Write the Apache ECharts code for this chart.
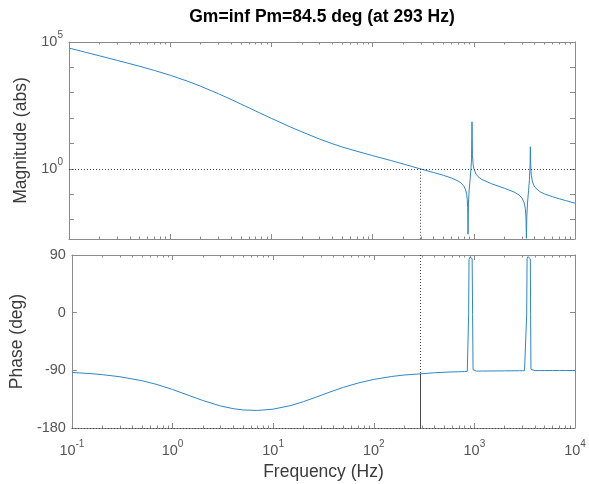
<!DOCTYPE html>
<html>
<head>
<meta charset="utf-8">
<script src="https://cdn.jsdelivr.net/npm/echarts@6/dist/echarts.min.js"></script>
<style>
  html, body { margin: 0; padding: 0; background: #ffffff; }
  #chart { width: 589px; height: 484px; }
</style>
</head>
<body>
<div id="chart"></div>
<script>
// Open-loop frequency response (Bode plot) with stability margins.
const freqHz = [0.1, 0.15, 0.2, 0.3, 0.5, 0.7, 1, 1.5, 2, 3, 4, 5, 7, 10, 15, 20, 30, 40, 50, 70, 100, 150, 200, 293,
  400, 500, 600, 700, 750, 800, 830, 850, 862, 870, 877, 885, 900, 920, 940, 950, 960, 970, 985, 1000,
  1050, 1100, 1200, 1500, 2000, 2500, 2800, 3000, 3150, 3230, 3280, 3311, 3340, 3400, 3480, 3550, 3600, 3622,
  3650, 3700, 3800, 4000, 4500, 5000, 6000, 7000, 8000, 10000];

const magnitudeAbs = [57500, 38200, 28600, 18800, 11000, 7530, 4880, 2800, 1800, 910, 541, 357, 189, 97.0, 46.6, 28.6,
  14.8, 9.77, 7.23, 4.90, 3.31, 2.14, 1.55, 1.00,
  0.715, 0.553, 0.433, 0.329, 0.273, 0.203, 0.147, 0.0977, 0.0603, 0.030, 0.00263, 0.0408, 0.145, 0.40, 1.15, 2.6,
  70.8, 3.29, 1.51, 1.04,
  0.618, 0.489, 0.378, 0.256, 0.172, 0.121, 0.0927, 0.0695, 0.0451, 0.0266, 0.0115, 0.0018, 0.0128, 0.0492, 0.143,
  0.389, 1.52, 7.41,
  1.39, 0.562, 0.302, 0.189, 0.125, 0.102, 0.0789, 0.0656, 0.0564, 0.0441];

const phaseDeg = [-93.3, -95.0, -96.7, -100.0, -106.3, -112.1, -119.9, -130.0, -137.1, -145.6, -149.8, -151.8, -152.6,
  -150.6, -144.9, -138.9, -128.9, -121.7, -116.5, -109.8, -104.2, -99.6, -97.3, -95.5,
  -93.8, -93.0, -92.5, -92.2, -92.0, -91.9, -91.8, -91.6, -91.3, -90.5, -2, 83, 86.5, 87, 86.5, 84.5,
  -3, -89, -91.2, -91.3,
  -91.3, -91.2, -91.1, -91.0, -90.8, -90.7, -90.6, -90.6, -90.5, -90.4, -89.8, -2, 84, 87.5, 87.5,
  87, 84, -3,
  -88.5, -90.2, -90.3, -90.4, -90.4, -90.3, -90.3, -90.2, -90.2, -90.2];

// Stability margins
const gainMarginText = 'inf';
const phaseMarginDeg = 84.5;
const crossoverHz = 293;

// Axis ranges and ticks
const freqRange = [0.1, 10000];
const freqMajorTicks = [0.1, 1, 10, 100, 1000, 10000];
const freqMinorTicks = [0.2, 0.3, 0.4, 0.5, 0.6, 0.7, 0.8, 0.9,
  2, 3, 4, 5, 6, 7, 8, 9,
  20, 30, 40, 50, 60, 70, 80, 90,
  200, 300, 400, 500, 600, 700, 800, 900,
  2000, 3000, 4000, 5000, 6000, 7000, 8000, 9000];
const magRange = [0.0017, 100000];
const magTicks = [0.01, 0.1, 1, 10, 100, 1000, 10000, 100000];
const magLabelTicks = [1, 100000];
const phaseRange = [-180, 90];
const phaseStep = 90;

const FONT = '"Liberation Sans", Arial, Helvetica, sans-serif';
const axisColor = '#8a8a8a';
const tickTextColor = '#555555';
const nameColor = '#3a3a3a';
const traceColor = '#2f86c4';
const markColor = '#404040';

const powRich = {
  b: { fontSize: 14.5, fontFamily: FONT, color: tickTextColor },
  s: { fontSize: 10, fontFamily: FONT, color: tickTextColor, padding: [0, 0, 14, 0] }
};
function powLabel(v) {
  const e = Math.round(Math.log10(v));
  return '{b|10}{s|' + e + '}';
}

const grids = [
  { left: 69, right: 14, top: 42, height: 197 },
  { left: 69, right: 14, top: 255, height: 173 }
];

function freqAxis(gridIndex, position, ticks, tickLen, opts) {
  opts = opts || {};
  return {
    type: 'log', logBase: 10, gridIndex: gridIndex, position: position,
    min: freqRange[0], max: freqRange[1],
    axisLine: { show: !!opts.line, onZero: false, lineStyle: { color: axisColor, width: 1 } },
    axisTick: { show: true, inside: true, length: tickLen, customValues: ticks,
      lineStyle: { color: axisColor, width: 1 } },
    minorTick: { show: false },
    splitLine: { show: false },
    axisLabel: opts.labels ? {
      show: true, customValues: freqMajorTicks, formatter: powLabel, rich: powRich, margin: 11
    } : { show: false },
    name: opts.name || '',
    nameLocation: 'middle', nameGap: 35,
    nameTextStyle: { fontSize: 17.5, fontFamily: FONT, color: nameColor }
  };
}

const xAxes = [];
for (let g = 0; g < 2; g++) {
  const isLower = g === 1;
  xAxes.push(freqAxis(g, 'bottom', freqMajorTicks, 5, { line: true, labels: isLower, name: isLower ? 'Frequency (Hz)' : '' }));
  xAxes.push(freqAxis(g, 'bottom', freqMinorTicks, 2.5, {}));
  xAxes.push(freqAxis(g, 'top', freqMajorTicks, 5, { line: true }));
  xAxes.push(freqAxis(g, 'top', freqMinorTicks, 2.5, {}));
}

function magAxis(position, withLabels) {
  return {
    type: 'log', logBase: 10, gridIndex: 0, position: position,
    min: magRange[0], max: magRange[1],
    axisLine: { show: true, onZero: false, lineStyle: { color: axisColor, width: 1 } },
    axisTick: { show: true, inside: true, length: 5, customValues: magTicks,
      lineStyle: { color: axisColor, width: 1 } },
    minorTick: { show: false },
    splitLine: { show: false },
    axisLabel: withLabels ? {
      show: true, customValues: magLabelTicks, formatter: powLabel, rich: powRich, margin: 6
    } : { show: false },
    name: withLabels ? 'Magnitude (abs)' : '',
    nameLocation: 'middle', nameRotate: 90, nameGap: 37,
    nameTextStyle: { fontSize: 17.5, fontFamily: FONT, color: nameColor }
  };
}

function phaseAxis(position, withLabels) {
  return {
    type: 'value', gridIndex: 1, position: position,
    min: phaseRange[0], max: phaseRange[1], interval: phaseStep,
    axisLine: { show: true, onZero: false, lineStyle: { color: axisColor, width: 1 } },
    axisTick: { show: true, inside: true, length: 5, lineStyle: { color: axisColor, width: 1 } },
    splitLine: { show: false },
    axisLabel: withLabels ? {
      show: true, margin: 6, fontSize: 14.5, fontFamily: FONT, color: tickTextColor
    } : { show: false },
    name: withLabels ? 'Phase (deg)' : '',
    nameLocation: 'middle', nameRotate: 90, nameGap: 37,
    nameTextStyle: { fontSize: 17.5, fontFamily: FONT, color: nameColor }
  };
}

const phaseAtCrossover = -180 + phaseMarginDeg;
const dotted = { type: [1, 2], color: markColor, width: 1 };

const option = {
  animation: false,
  backgroundColor: '#ffffff',
  title: {
    text: 'Gm=' + gainMarginText + ' Pm=' + phaseMarginDeg + ' deg (at ' + crossoverHz + ' Hz)',
    left: 322, top: 8, textAlign: 'center', padding: 0,
    textStyle: { fontSize: 17.5, fontWeight: 'bold', fontFamily: FONT, color: '#000000' }
  },
  grid: grids,
  xAxis: xAxes,
  yAxis: [magAxis('left', true), magAxis('right', false), phaseAxis('left', true), phaseAxis('right', false)],
  series: [
    {
      name: 'Magnitude', type: 'line', xAxisIndex: 0, yAxisIndex: 0,
      data: freqHz.map((f, i) => [f, magnitudeAbs[i]]),
      showSymbol: false, clip: true,
      lineStyle: { color: traceColor, width: 1 },
      markLine: {
        silent: true, symbol: 'none', label: { show: false },
        data: [
          [{ coord: [freqRange[0], 1], lineStyle: dotted }, { coord: [freqRange[1], 1] }],
          [{ coord: [crossoverHz, 1], lineStyle: dotted }, { coord: [crossoverHz, magRange[0]] }]
        ]
      }
    },
    {
      name: 'Phase', type: 'line', xAxisIndex: 4, yAxisIndex: 2,
      data: freqHz.map((f, i) => [f, phaseDeg[i]]),
      showSymbol: false, clip: true,
      lineStyle: { color: traceColor, width: 1 },
      markLine: {
        silent: true, symbol: 'none', label: { show: false },
        data: [
          [{ coord: [crossoverHz, phaseRange[1]], lineStyle: dotted }, { coord: [crossoverHz, phaseAtCrossover] }],
          [{ coord: [crossoverHz, phaseAtCrossover], lineStyle: { type: 'solid', color: '#4a4a4a', width: 1 } },
           { coord: [crossoverHz, phaseRange[0]] }],
          [{ coord: [freqRange[0], -180], lineStyle: dotted }, { coord: [freqRange[1], -180] }]
        ]
      }
    }
  ]
};

const chart = echarts.init(document.getElementById('chart'), null, { renderer: 'canvas' });
chart.setOption(option);
</script>
</body>
</html>
